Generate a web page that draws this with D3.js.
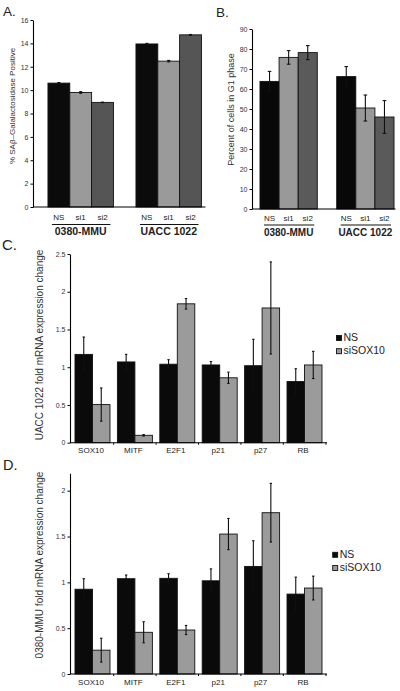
<!DOCTYPE html>
<html><head><meta charset="utf-8">
<script src="https://cdn.jsdelivr.net/npm/d3@7/dist/d3.min.js"></script>
<style>
html,body{margin:0;padding:0;background:#fff;}
svg{display:block;font-family:"Liberation Sans",Arial,sans-serif;}
</style></head>
<body><svg id="chart" width="400" height="691"></svg>
<script>
// ---- Data ----
const abGroups = ["0380-MMU", "UACC 1022"];
const abConditions = ["NS", "si1", "si2"];
const aValues = [[10.6, 9.8, 8.95], [13.95, 12.48, 14.73]];
const aErrors = [[0.05, 0.07, 0.02], [0.05, 0.06, 0.03]];
const aTicks = [0, 2, 4, 6, 8, 10, 12, 14, 16];
const bValues = [[63.8, 75.8, 78.2], [66.2, 50.5, 46.0]];
const bErrors = [[5.0, 3.4, 3.5], [5.0, 6.5, 8.2]];
const bTicks = [0, 10, 20, 30, 40, 50, 60, 70, 80, 90];

const genes = ["SOX10", "MITF", "E2F1", "p21", "p27", "RB"];
const seriesNames = ["NS", "siSOX10"];
const cNS = [1.17, 1.07, 1.04, 1.03, 1.02, 0.81];
const cNSErr = [0.23, 0.10, 0.06, 0.045, 0.35, 0.17];
const cSi = [0.505, 0.098, 1.84, 0.86, 1.785, 1.03];
const cSiErr = [0.22, 0.01, 0.07, 0.075, 0.61, 0.18];
const cTicks = [0, 0.5, 1, 1.5, 2, 2.5];
const dNS = [0.925, 1.04, 1.044, 1.017, 1.174, 0.872];
const dNSErr = [0.115, 0.04, 0.05, 0.13, 0.28, 0.185];
const dSi = [0.26, 0.455, 0.48, 1.527, 1.76, 0.938];
const dSiErr = [0.13, 0.115, 0.05, 0.17, 0.32, 0.13];
const dTicks = [0, 0.5, 1, 1.5, 2];

const svg = d3.select("#chart");
const TXT = "#222";

function yAxis(g, y, ticks, fs) {
  const ax = d3.axisLeft(y).tickValues(ticks).tickSize(2.5).tickSizeOuter(0).tickPadding(2)
    .tickFormat(d3.format("~g"));
  g.call(ax);
  g.select(".domain").attr("stroke", "#000").attr("stroke-width", 1.1);
  g.selectAll(".tick line").attr("stroke", "#000");
  g.selectAll(".tick text").attr("fill", "#333").style("font-size", fs + "px")
    .style("font-family", "Liberation Sans, Arial, sans-serif");
}

function errBar(g, x, yTop, yBot, cap) {
  g.append("line").attr("x1", x).attr("x2", x).attr("y1", yTop).attr("y2", yBot)
    .attr("stroke", "#111").attr("stroke-width", 1.1);
  g.append("line").attr("x1", x - cap).attr("x2", x + cap).attr("y1", yTop).attr("y2", yTop)
    .attr("stroke", "#111").attr("stroke-width", 1.1);
  g.append("line").attr("x1", x - cap).attr("x2", x + cap).attr("y1", yBot).attr("y2", yBot)
    .attr("stroke", "#111").attr("stroke-width", 1.1);
}

function panelLabel(t, x, y, fs) {
  svg.append("text").attr("x", x).attr("y", y).text(t).attr("fill", TXT)
    .style("font-size", fs + "px");
}

function yLabel(t, x, y, fs) {
  svg.append("text").attr("transform", `translate(${x},${y}) rotate(-90)`)
    .attr("text-anchor", "middle").text(t).attr("fill", "#333").style("font-size", fs + "px");
}

// ---- Panels A & B (grouped by cell line) ----
function groupPanel(opts) {
  const { values, errors, ticks, y, x0, colors, axisX, lblY, ulY, grpY, grpFs, cap, axisEnd } = opts;
  const x1 = d3.scaleBand().domain(abConditions).range([0, x0.bandwidth()]).padding(0);
  const g = svg.append("g");
  abGroups.forEach((grp, gi) => {
    abConditions.forEach((c, ci) => {
      const v = values[gi][ci];
      const xx = x0(grp) + x1(c);
      g.append("rect").attr("x", xx).attr("y", y(v)).attr("width", x1.bandwidth())
        .attr("height", y(0) - y(v)).attr("fill", colors[ci]).attr("stroke", "#111").attr("stroke-width", 0.9);
    });
    abConditions.forEach((c, ci) => {
      const v = values[gi][ci], e = errors[gi][ci];
      const cx = x0(grp) + x1(c) + x1.bandwidth() / 2;
      errBar(g, cx, y(v + e), y(v - e), cap);
      svg.append("text").attr("x", cx).attr("y", lblY).attr("text-anchor", "middle")
        .text(c).attr("fill", TXT).style("font-size", "8px");
    });
    const gx0 = x0(grp) + 4, gx1 = x0(grp) + x0.bandwidth() - 3;
    svg.append("line").attr("x1", gx0).attr("x2", gx1).attr("y1", ulY).attr("y2", ulY)
      .attr("stroke", "#111").attr("stroke-width", 1.1);
    svg.append("text").attr("x", x0(grp) + x0.bandwidth() / 2).attr("y", grpY)
      .attr("text-anchor", "middle").text(grp).attr("fill", TXT)
      .style("font-size", grpFs + "px").style("font-weight", "bold");
  });
  svg.append("line").attr("x1", axisX).attr("x2", axisEnd).attr("y1", y(0)).attr("y2", y(0))
    .attr("stroke", "#000").attr("stroke-width", 1.1);
  yAxis(svg.append("g").attr("transform", `translate(${axisX},0)`), y, ticks, 7);
}

const yA = d3.scaleLinear().domain([0, 16]).range([207, 20]);
const xA = d3.scaleBand().domain(abGroups).range([33, 216.4]).paddingInner(0.256).paddingOuter(0.17);
groupPanel({ values: aValues, errors: aErrors, ticks: aTicks, y: yA, x0: xA,
  colors: ["#0b0b0b", "#9a9a9a", "#555555"], axisX: 33, lblY: 219.5, ulY: 224.5, grpY: 234.5,
  grpFs: 10.5, cap: 1.5, axisEnd: xA("UACC 1022") + xA.bandwidth() + 4 });
panelLabel("A.", 3, 15.5, 13.5);
yLabel("% SA\u03B2\u2013Galalactosidase Positive", 14.5, 106, 8);

const yB = d3.scaleLinear().domain([0, 90]).range([209, 29]);
const xB = d3.scaleBand().domain(abGroups).range([252, 402]).paddingInner(0.253).paddingOuter(0.104);
groupPanel({ values: bValues, errors: bErrors, ticks: bTicks, y: yB, x0: xB,
  colors: ["#080808", "#999999", "#5a5a5a"], axisX: 252, lblY: 221, ulY: 225, grpY: 236,
  grpFs: 10, cap: 1.8, axisEnd: xB("UACC 1022") + xB.bandwidth() + 1.5 });
panelLabel("B.", 216, 16.5, 13.5);
yLabel("Percent of cells in G1 phase", 234, 109.5, 9);

// ---- Panels C & D (genes) ----
function genePanel(opts) {
  const { ns, nsErr, si, siErr, ticks, y, x0, label, labelY, legendX, legendY, catY } = opts;
  const x1 = d3.scaleBand().domain(seriesNames).range([0, x0.bandwidth()]).padding(0);
  const g = svg.append("g");
  const cols = ["#0a0a0a", "#9b9b9b"];
  genes.forEach((gene, i) => {
    const vals = [ns[i], si[i]], errs = [nsErr[i], siErr[i]];
    seriesNames.forEach((s, k) => {
      const v = vals[k];
      g.append("rect").attr("x", x0(gene) + x1(s)).attr("y", y(v)).attr("width", x1.bandwidth())
        .attr("height", y(0) - y(v)).attr("fill", cols[k]).attr("stroke", "#111").attr("stroke-width", 0.9);
    });
    seriesNames.forEach((s, k) => {
      const v = vals[k], e = errs[k];
      const cx = x0(gene) + x1(s) + x1.bandwidth() / 2;
      errBar(g, cx, y(v + e), y(v - e), 1.2);
    });
    svg.append("text").attr("x", x0(gene) + x0.bandwidth() / 2 - 1.5).attr("y", catY)
      .attr("text-anchor", "middle").text(gene).attr("fill", TXT).style("font-size", "8px");
  });
  const r = x0.range();
  svg.append("line").attr("x1", r[0]).attr("x2", r[1]).attr("y1", y(0)).attr("y2", y(0))
    .attr("stroke", "#000").attr("stroke-width", 1.1);
  const pad = x0.step() * x0.paddingInner() / 2;
  genes.slice(1).forEach(gene => {
    const tx = x0(gene) - pad;
    svg.append("line").attr("x1", tx).attr("x2", tx).attr("y1", y(0)).attr("y2", y(0) + 2)
      .attr("stroke", "#000");
  });
  svg.append("line").attr("x1", r[1] - 1).attr("x2", r[1] - 1).attr("y1", y(0)).attr("y2", y(0) + 2)
    .attr("stroke", "#000");
  yAxis(svg.append("g").attr("transform", `translate(${r[0]},0)`), y, ticks, 7);
  yLabel(label, 43, labelY, 10);
  seriesNames.forEach((s, i) => {
    const ly = legendY + i * 13.2;
    svg.append("rect").attr("x", legendX).attr("y", ly - 5).attr("width", 5).attr("height", 5)
      .attr("fill", cols[i]).attr("stroke", "#111").attr("stroke-width", 0.9);
    svg.append("text").attr("x", legendX + 7).attr("y", ly + 0.5).text(s).attr("fill", TXT)
      .style("font-size", "10.5px");
  });
}

const xC = d3.scaleBand().domain(genes).range([70, 327]).paddingInner(0.175).paddingOuter(0.118);
const yC = d3.scaleLinear().domain([0, 2.5]).range([442.7, 254]);
genePanel({ ns: cNS, nsErr: cNSErr, si: cSi, siErr: cSiErr, ticks: cTicks, y: yC, x0: xC,
  label: "UACC 1022 fold mRNA expression change", labelY: 345, legendX: 336.5, legendY: 340.5, catY: 452.5 });
panelLabel("C.", 2, 249.5, 15);

const xD = d3.scaleBand().domain(genes).range([70, 327]).paddingInner(0.175).paddingOuter(0.118);
const yD = d3.scaleLinear().domain([0, 2.19]).range([674, 473.3]);
genePanel({ ns: dNS, nsErr: dNSErr, si: dSi, siErr: dSiErr, ticks: dTicks, y: yD, x0: xD,
  label: "0380-MMU fold mRNA expression change", labelY: 565, legendX: 332.7, legendY: 557.3, catY: 684.5 });
panelLabel("D.", 3, 469.5, 14.5);
</script></body></html>
